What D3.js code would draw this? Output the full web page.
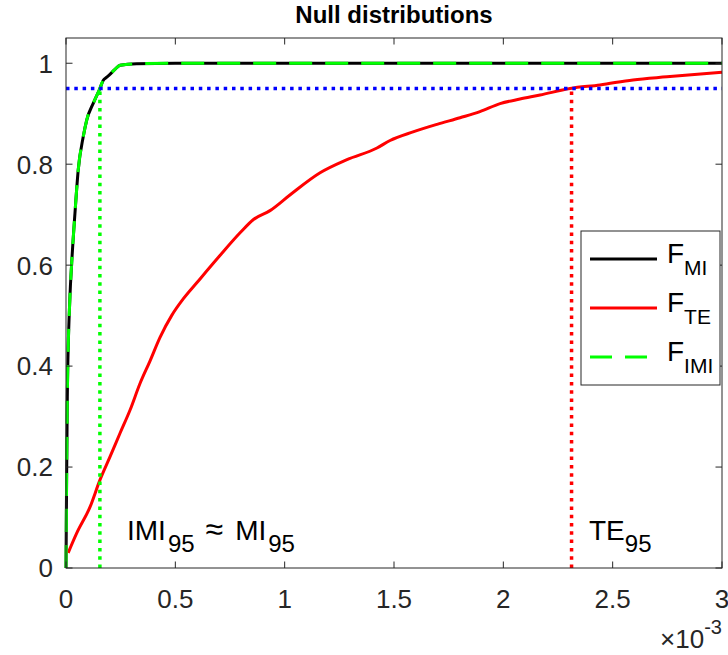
<!DOCTYPE html>
<html>
<head>
<meta charset="utf-8">
<script src="https://cdn.jsdelivr.net/npm/d3@7"></script>
<style>
  body { margin: 0; background: #fff; }
  svg { display: block; font-family: "Liberation Sans", Arial, Helvetica, sans-serif; }
</style>
</head>
<body>
<div id="chart"></div>
<script>
// x values are in units of 1e-3 (axis multiplier shown bottom right)
const miX  = [0, 0.002, 0.006, 0.018, 0.026, 0.041, 0.056, 0.079, 0.095, 0.125, 0.155, 0.17, 0.185, 0.201, 0.224, 0.247, 0.323, 0.5, 3];
const miF  = [0, 0.13, 0.339, 0.537, 0.604, 0.703, 0.789, 0.855, 0.888, 0.921, 0.95, 0.966, 0.972, 0.978, 0.988, 0.996, 0.999, 1, 1];
const imiX = [0, 0.002, 0.006, 0.018, 0.026, 0.041, 0.056, 0.079, 0.095, 0.125, 0.155, 0.17, 0.185, 0.201, 0.224, 0.247, 0.323, 0.5, 3];
const imiF = [0, 0.13, 0.339, 0.537, 0.604, 0.703, 0.789, 0.855, 0.888, 0.921, 0.95, 0.966, 0.972, 0.978, 0.988, 0.996, 0.999, 1, 1];
const teX  = [0.01, 0.049, 0.11, 0.155, 0.201, 0.247, 0.293, 0.338, 0.384, 0.43, 0.483, 0.536, 0.6, 0.7, 0.796, 0.856, 0.933, 1.024, 1.162, 1.285, 1.422, 1.482, 1.587, 1.697, 1.802, 1.893, 1.985, 2.076, 2.168, 2.305, 2.442, 2.593, 2.748, 3.0];
const teF  = [0.03, 0.069, 0.121, 0.174, 0.22, 0.267, 0.313, 0.365, 0.41, 0.457, 0.5, 0.533, 0.566, 0.617, 0.664, 0.69, 0.708, 0.739, 0.783, 0.809, 0.832, 0.847, 0.864, 0.879, 0.892, 0.904, 0.92, 0.929, 0.937, 0.95, 0.957, 0.967, 0.973, 0.982];

const level = 0.95;
const imi95 = 0.155;
const te95 = 2.312;

const xTicks = [0, 0.5, 1, 1.5, 2, 2.5, 3];
const yTicks = [0, 0.2, 0.4, 0.6, 0.8, 1];

const W = 728, H = 655;
const plot = { left: 66, right: 722, top: 38, bottom: 568 };
const axisColor = '#262626';

const svg = d3.select('#chart').append('svg')
  .attr('width', W).attr('height', H);

const x = d3.scaleLinear().domain([0, 3]).range([plot.left, plot.right]);
const y = d3.scaleLinear().domain([0, 1.05]).range([plot.bottom, plot.top]);

const line = d3.line().x(d => x(d[0])).y(d => y(d[1])).curve(d3.curveMonotoneX);
const zip = (a, b) => a.map((v, i) => [v, b[i]]);

// curves
svg.append('path').datum(zip(miX, miF))
  .attr('d', line).attr('fill', 'none')
  .attr('stroke', '#000').attr('stroke-width', 3);

svg.append('path').datum(zip(teX, teF))
  .attr('d', line).attr('fill', 'none')
  .attr('stroke', '#ff0000').attr('stroke-width', 3);

svg.append('path').datum(zip(imiX, imiF))
  .attr('d', line).attr('fill', 'none')
  .attr('stroke', '#00ff00').attr('stroke-width', 3)
  .attr('stroke-dasharray', '23,13');

// threshold lines (dotted)
const dot = '3.5,4.8';
svg.append('line')
  .attr('x1', x(0)).attr('x2', x(3)).attr('y1', y(level)).attr('y2', y(level))
  .attr('stroke', '#0000ff').attr('stroke-width', 3.5).attr('stroke-dasharray', dot);
svg.append('line')
  .attr('x1', x(imi95)).attr('x2', x(imi95)).attr('y1', y(0)).attr('y2', y(level))
  .attr('stroke', '#00ff00').attr('stroke-width', 3.5).attr('stroke-dasharray', dot);
svg.append('line')
  .attr('x1', x(te95)).attr('x2', x(te95)).attr('y1', y(0)).attr('y2', y(level))
  .attr('stroke', '#ff0000').attr('stroke-width', 3.5).attr('stroke-dasharray', dot);

// axes box with inward ticks on all sides
const tickLen = 6.5;
const ax = svg.append('g').attr('stroke', axisColor).attr('stroke-width', 1).attr('fill', 'none');
ax.append('rect')
  .attr('x', plot.left).attr('y', plot.top)
  .attr('width', plot.right - plot.left).attr('height', plot.bottom - plot.top);
xTicks.forEach(t => {
  ax.append('line').attr('x1', x(t)).attr('x2', x(t)).attr('y1', plot.bottom).attr('y2', plot.bottom - tickLen);
  ax.append('line').attr('x1', x(t)).attr('x2', x(t)).attr('y1', plot.top).attr('y2', plot.top + tickLen);
});
yTicks.forEach(t => {
  ax.append('line').attr('x1', plot.left).attr('x2', plot.left + tickLen).attr('y1', y(t)).attr('y2', y(t));
  ax.append('line').attr('x1', plot.right).attr('x2', plot.right - tickLen).attr('y1', y(t)).attr('y2', y(t));
});

// tick labels
svg.append('g').selectAll('text').data(xTicks).enter().append('text')
  .attr('x', d => x(d)).attr('y', 608)
  .attr('text-anchor', 'middle').attr('font-size', 26).attr('fill', axisColor)
  .text(d => d3.format('~g')(d));

svg.append('g').selectAll('text').data(yTicks).enter().append('text')
  .attr('x', plot.left - 13).attr('y', d => y(d)).attr('dy', '0.36em')
  .attr('text-anchor', 'end').attr('font-size', 26).attr('fill', axisColor)
  .text(d => d3.format('~g')(d));

// exponent label
const expo = svg.append('text')
  .attr('x', plot.right).attr('y', 648)
  .attr('text-anchor', 'end').attr('font-size', 26).attr('fill', axisColor);
expo.append('tspan').text('\u00d710');
expo.append('tspan').attr('font-size', 20).attr('dy', -14).text('-3');

// title
svg.append('text')
  .attr('x', (plot.left + plot.right) / 2).attr('y', 23)
  .attr('text-anchor', 'middle').attr('font-size', 24).attr('font-weight', 'bold')
  .attr('fill', '#000').text('Null distributions');

// annotations (TeX-like: subscripts dropped, wide spacing round \approx)
const ann1 = svg.append('text').attr('x', 127).attr('y', 540)
  .attr('font-size', 28).attr('fill', '#000');
ann1.append('tspan').text('IMI');
ann1.append('tspan').attr('font-size', 24).attr('dx', 2).attr('dy', 12).text('95');
ann1.append('tspan').attr('font-size', 32).attr('dx', 11).attr('dy', -12).text('\u2248');
ann1.append('tspan').attr('dx', 12).text('MI');
ann1.append('tspan').attr('font-size', 24).attr('dx', 2).attr('dy', 12).text('95');

const ann2 = svg.append('text').attr('x', 589).attr('y', 540)
  .attr('font-size', 28).attr('fill', '#000');
ann2.append('tspan').text('TE');
ann2.append('tspan').attr('font-size', 24).attr('dx', 0).attr('dy', 12).text('95');

// legend
const legendItems = [
  { name: 'MI', color: '#000', dash: null },
  { name: 'TE', color: '#ff0000', dash: null },
  { name: 'IMI', color: '#00ff00', dash: '22,13' }
];
const lg = svg.append('g');
lg.append('rect')
  .attr('x', 581).attr('y', 231).attr('width', 139).attr('height', 154)
  .attr('fill', '#fff').attr('stroke', axisColor).attr('stroke-width', 1);
legendItems.forEach((d, i) => {
  const ly = 259 + i * 49;
  lg.append('line')
    .attr('x1', 590).attr('x2', 657).attr('y1', ly).attr('y2', ly)
    .attr('stroke', d.color).attr('stroke-width', 3)
    .attr('stroke-dasharray', d.dash);
  const t = lg.append('text').attr('x', 667).attr('y', ly + 4)
    .attr('font-size', 28).attr('fill', '#000');
  t.append('tspan').text('F');
  t.append('tspan').attr('font-size', 21).attr('dy', 12).text(d.name);
});
</script>
</body>
</html>
